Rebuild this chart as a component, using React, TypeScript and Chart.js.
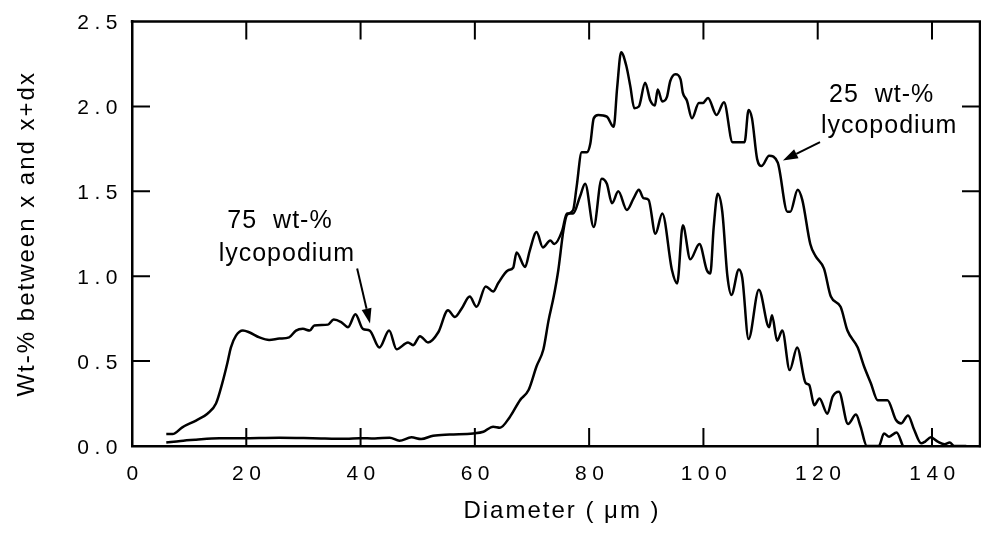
import { useEffect, useRef } from 'react';
import { Chart, registerables } from 'chart.js';

Chart.register(...registerables);

// ---- data ----
const diameters75 = [
  6.0, 7.1, 8.8, 11.2, 13.2, 14.7, 15.8, 16.7, 17.3, 18.2, 19.4, 20.5, 22.3, 24.0, 25.8, 27.5,
  28.7, 29.9, 31.1, 31.9, 34.3, 35.3, 36.6, 37.8, 39.1, 40.4, 41.6, 43.3, 45.0, 46.3, 48.3, 49.2,
  50.4, 51.8, 53.6, 55.3, 56.5, 57.7, 59.1, 60.3, 61.9, 63.2, 64.1, 65.8, 66.7, 67.3, 68.8, 69.6,
  70.8, 71.9, 73.2, 73.9, 75.3, 76.1, 77.2, 78.4, 79.3, 80.8, 82.2, 83.1, 84.0, 85.1, 86.6, 87.8,
  88.7, 89.5, 90.4, 91.6, 92.8, 94.5, 95.4, 96.4, 97.7, 99.3, 100.6, 101.2, 101.8, 102.5, 103.3,
  104.2, 104.9, 106.2, 106.8, 107.9, 109.7, 111.5, 112.0, 112.9, 113.8, 115.1, 116.4, 117.9,
  118.5, 119.4, 120.3, 121.7, 122.6, 123.7, 125.3, 126.7, 127.5, 128.6, 130.7, 131.6, 132.5,
  133.8, 134.9,
];
const wt75 = [
  0.07, 0.07, 0.11, 0.15, 0.19, 0.25, 0.37, 0.49, 0.58, 0.65, 0.68, 0.67, 0.64, 0.625, 0.633, 0.64,
  0.68, 0.69, 0.68, 0.71, 0.715, 0.745, 0.73, 0.70, 0.776, 0.69, 0.68, 0.58, 0.68, 0.57, 0.61, 0.594,
  0.647, 0.61, 0.67, 0.80, 0.76, 0.81, 0.88, 0.82, 0.94, 0.91, 0.96, 1.035, 1.05, 1.14, 1.055, 1.15,
  1.26, 1.17, 1.21, 1.19, 1.27, 1.37, 1.37, 1.47, 1.545, 1.29, 1.575, 1.545, 1.43, 1.50, 1.39, 1.46,
  1.51, 1.46, 1.45, 1.25, 1.37, 1.035, 0.957, 1.30, 1.10, 1.19, 1.035, 1.016, 1.29, 1.486, 1.38,
  1.00, 0.89, 1.04, 0.99, 0.63, 0.92, 0.70, 0.77, 0.62, 0.68, 0.447, 0.58, 0.37,
  0.36, 0.24, 0.28, 0.19, 0.29, 0.32, 0.13, 0.185, 0.114, 0.0, 0.0, 0.074, 0.055,
  0.08, 0.0,
];

const diameters25 = [
  6.0, 8.5, 11.2, 15.3, 19.4, 25.8, 31.6, 37.5, 39.8, 42.5, 45.1, 46.8, 48.9, 50.6, 52.7, 55.6,
  59.7, 61.5, 63.2, 64.4, 66.1, 67.9, 69.4, 70.8, 72.0, 72.9, 73.8, 74.6, 75.5, 76.1, 77.2, 77.8,
  78.7, 79.6, 80.2, 80.8, 81.6, 83.1, 84.3, 84.9, 85.6, 86.5, 87.2, 87.9, 88.7, 89.8, 90.7, 91.5,
  92.0, 92.8, 93.6, 94.2, 95.1, 96.0, 96.4, 97.1, 98.0, 99.2, 99.9, 100.8, 102.3, 103.6, 105.1,
  107.2, 107.9, 108.5, 109.4, 110.2, 111.5, 113.0, 114.7, 115.2, 116.5, 117.3, 118.7, 119.6,
  121.1, 122.3, 124.0, 125.2, 127.0, 128.1, 129.3, 130.5, 132.2, 133.7, 134.6, 135.8, 136.9,
  138.1, 138.8, 139.8, 141.0, 142.2, 143.1, 143.9, 146.0,
];
const wt25 = [
  0.02, 0.03, 0.037, 0.045, 0.046, 0.049, 0.046, 0.042, 0.046, 0.044, 0.049, 0.031, 0.051, 0.041, 0.061, 0.068,
  0.074, 0.084, 0.114, 0.108, 0.17, 0.27, 0.33, 0.47, 0.57, 0.74, 0.88, 1.035, 1.27, 1.36, 1.39, 1.525,
  1.73, 1.73, 1.78, 1.93, 1.95, 1.94, 1.88, 2.11, 2.32, 2.24, 2.12, 1.99, 2.0, 2.14, 2.035, 2.006,
  2.10, 2.03, 2.055, 2.15, 2.19, 2.16, 2.08, 2.035, 1.93, 2.02, 2.02, 2.05, 1.95, 2.025, 1.79,
  1.79, 1.98, 1.93, 1.69, 1.65, 1.71, 1.67, 1.38, 1.38, 1.51, 1.45, 1.19, 1.12,
  1.045, 0.88, 0.82, 0.68, 0.58, 0.47, 0.37, 0.27, 0.27, 0.153, 0.133, 0.18, 0.094,
  0.016, 0.026, 0.051, 0.026, 0.01, 0.02, 0.0, 0.0,
];

const xTickValues = [0, 20, 40, 60, 80, 100, 120, 140];
const yTickValues = [0, 0.5, 1.0, 1.5, 2.0, 2.5];
const xTitle = 'Diameter ( \u03bcm )';
const yTitle = 'Wt-% between x and x+dx';
const note75 = ['75  wt-%', 'lycopodium'];
const note25 = ['25  wt-%', 'lycopodium'];

// annotation anchors in data units (x = diameter, y = wt-%)
const note75Pos = { line1: [25.9, 1.285], line2: [27.1, 1.09], from: [39.4, 1.045], to: [41.65, 0.722] };
const note25Pos = { line1: [131.2, 2.024], line2: [132.5, 1.841], from: [120.4, 1.79], to: [113.9, 1.682] };

const FONT = '"Liberation Sans", Arial, Helvetica, sans-serif';

function drawArrow(ctx: CanvasRenderingContext2D, x1: number, y1: number, x2: number, y2: number) {
  const ang = Math.atan2(y2 - y1, x2 - x1);
  const head = 15;
  const half = 5;
  const bx = x2 - head * Math.cos(ang);
  const by = y2 - head * Math.sin(ang);
  ctx.beginPath();
  ctx.moveTo(x1, y1);
  ctx.lineTo(bx, by);
  ctx.lineWidth = 2;
  ctx.stroke();
  ctx.beginPath();
  ctx.moveTo(x2, y2);
  ctx.lineTo(bx + half * Math.sin(ang), by - half * Math.cos(ang));
  ctx.lineTo(bx - half * Math.sin(ang), by + half * Math.cos(ang));
  ctx.closePath();
  ctx.fill();
}

const framePlugin = {
  id: 'frameAndNotes',
  beforeDraw(chart: any) {
    chart.ctx.letterSpacing = '5.5px';
  },
  afterDraw(chart: any) {
    const ctx: CanvasRenderingContext2D = chart.ctx;
    const { left, right, top, bottom } = chart.chartArea;
    const xs = chart.scales.x;
    const ys = chart.scales.y;
    ctx.save();
    ctx.letterSpacing = '0px';
    ctx.strokeStyle = '#000';
    ctx.fillStyle = '#000';
    ctx.lineCap = 'butt';
    // top and right frame
    ctx.lineWidth = 2.5;
    ctx.beginPath();
    ctx.moveTo(left - 1.25, top);
    ctx.lineTo(right, top);
    ctx.lineTo(right, bottom + 1.25);
    ctx.stroke();
    // inward ticks on all four sides
    const L = 18;
    ctx.lineWidth = 2;
    ctx.beginPath();
    xTickValues.forEach((v) => {
      if (v === 0) return;
      const px = xs.getPixelForValue(v);
      ctx.moveTo(px, bottom);
      ctx.lineTo(px, bottom - L);
      ctx.moveTo(px, top);
      ctx.lineTo(px, top + L);
    });
    yTickValues.forEach((v) => {
      if (v === 0 || v === 2.5) return;
      const py = ys.getPixelForValue(v);
      ctx.moveTo(left, py);
      ctx.lineTo(left + L, py);
      ctx.moveTo(right, py);
      ctx.lineTo(right - L, py);
    });
    ctx.stroke();

    // axis titles
    ctx.font = `24px ${FONT}`;
    ctx.letterSpacing = '2px';
    ctx.textAlign = 'center';
    ctx.textBaseline = 'alphabetic';
    ctx.fillText(xTitle, (left + right) / 2 + 6, 518);
    ctx.save();
    ctx.translate(34, (top + bottom) / 2);
    ctx.rotate(-Math.PI / 2);
    ctx.fillText(yTitle, 0, 0);
    ctx.restore();

    // annotations
    ctx.font = `25px ${FONT}`;
    ctx.letterSpacing = '1px';
    const notes: [string[], any][] = [[note75, note75Pos], [note25, note25Pos]];
    notes.forEach(([txt, pos]) => {
      ctx.fillText(txt[0], xs.getPixelForValue(pos.line1[0]), ys.getPixelForValue(pos.line1[1]));
      ctx.fillText(txt[1], xs.getPixelForValue(pos.line2[0]), ys.getPixelForValue(pos.line2[1]));
      drawArrow(
        ctx,
        xs.getPixelForValue(pos.from[0]),
        ys.getPixelForValue(pos.from[1]),
        xs.getPixelForValue(pos.to[0]),
        ys.getPixelForValue(pos.to[1]),
      );
    });
    ctx.restore();
    ctx.letterSpacing = '0px';
  },
};

export default function App() {
  const canvasRef = useRef<HTMLCanvasElement | null>(null);

  useEffect(() => {
    const canvas = canvasRef.current;
    if (!canvas) return;
    const lineStyle = {
      borderColor: '#000',
      borderWidth: 2.5,
      pointRadius: 0,
      fill: false,
      cubicInterpolationMode: 'monotone' as const,
      borderJoinStyle: 'round' as const,
    };
    const chart = new Chart(canvas, {
      type: 'line',
      data: {
        datasets: [
          {
            label: '75 wt-% lycopodium',
            data: diameters75.map((x, i) => ({ x, y: wt75[i] })),
            ...lineStyle,
          },
          {
            label: '25 wt-% lycopodium',
            data: diameters25.map((x, i) => ({ x, y: wt25[i] })),
            ...lineStyle,
          },
        ],
      },
      options: {
        responsive: false,
        animation: false,
        devicePixelRatio: 1,
        layout: { padding: { top: 21, right: 1, left: 0, bottom: 0 } },
        plugins: {
          legend: { display: false },
          tooltip: { enabled: false },
        },
        scales: {
          x: {
            type: 'linear',
            min: 0,
            max: 148.4,
            grid: { display: false, drawTicks: false },
            border: { display: true, color: '#000', width: 2.5 },
            afterBuildTicks: (scale: any) => {
              scale.ticks = xTickValues.map((value) => ({ value }));
            },
            afterFit: (scale: any) => {
              scale.height = 104;
            },
            ticks: {
              color: '#000',
              font: { family: FONT, size: 21 },
              padding: 16,
              labelOffset: 3,
              maxRotation: 0,
              autoSkip: false,
              callback: (v: any) => String(v),
            },
          },
          y: {
            type: 'linear',
            min: 0,
            max: 2.5,
            grid: { display: false, drawTicks: false },
            border: { display: true, color: '#000', width: 2.5 },
            afterBuildTicks: (scale: any) => {
              scale.ticks = yTickValues.map((value) => ({ value }));
            },
            afterFit: (scale: any) => {
              scale.width = 132;
            },
            ticks: {
              color: '#000',
              font: { family: FONT, size: 21 },
              padding: 9,
              labelOffset: 2,
              autoSkip: false,
              callback: (v: any) => Number(v).toFixed(1),
            },
          },
        },
      },
      plugins: [framePlugin],
    });
    return () => chart.destroy();
  }, []);

  return (
    <div style={{ position: 'absolute', left: 0, top: 0, width: 981, height: 550, background: '#fff' }}>
      <canvas ref={canvasRef} width={981} height={550} style={{ display: 'block' }} />
    </div>
  );
}
